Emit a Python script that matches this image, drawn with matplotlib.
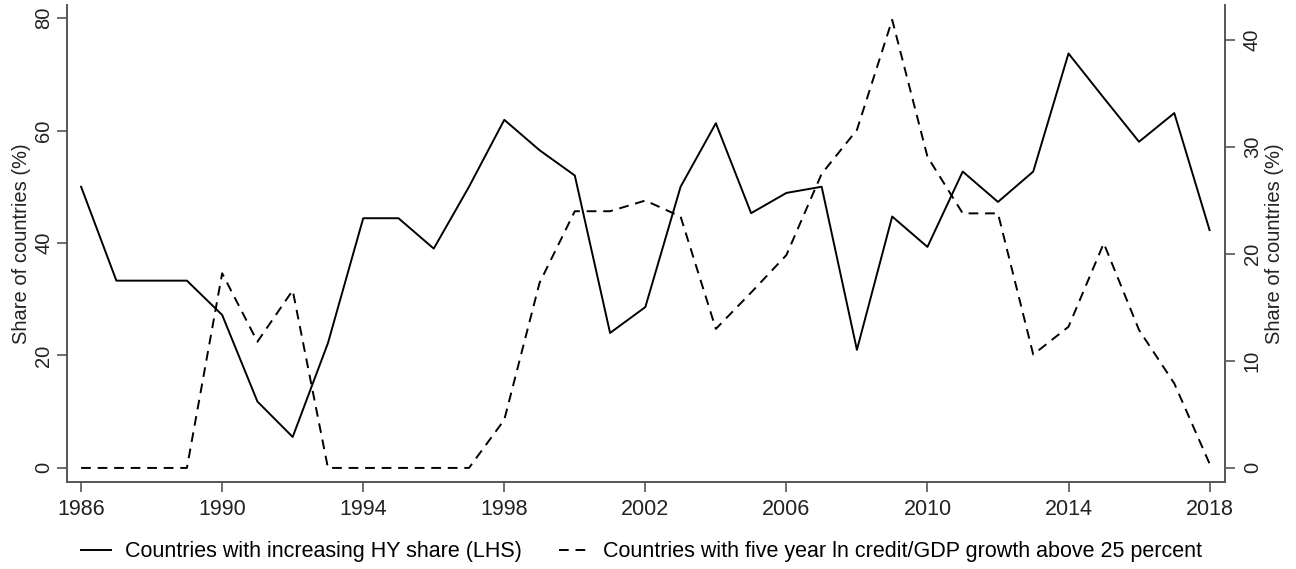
import matplotlib
matplotlib.use("Agg")
import matplotlib.pyplot as plt

plt.rcParams['font.family'] = ['Liberation Sans', 'DejaVu Sans']

years = list(range(1986, 2019))

# share of countries with increasing HY share (LHS, %)
hy_share = [50.0, 33.3, 33.3, 33.3, 27.2, 11.8, 5.5, 22.2, 44.4, 44.4,
            39.0, 50.0, 61.9, 56.5, 52.0, 24.0, 28.6, 50.0, 61.3, 45.3,
            48.9, 50.0, 21.0, 44.7, 39.3, 52.7, 47.3, 52.7, 73.7, 65.8,
            58.0, 63.1, 42.3]

# share of countries with 5y ln credit/GDP growth above 25 percent (RHS, %)
credit_boom = [0.0, 0.0, 0.0, 0.0, 18.2, 11.8, 16.6, 0.0, 0.0, 0.0,
               0.0, 0.0, 4.5, 17.3, 24.0, 24.0, 25.0, 23.5, 13.0, 16.4,
               19.9, 27.5, 31.6, 41.9, 29.1, 23.8, 23.8, 10.6, 13.2, 21.0,
               12.9, 7.9, 0.4]

xticks = list(range(1986, 2019, 4))
left_ticks = [0, 20, 40, 60, 80]
right_ticks = [0, 10, 20, 30, 40]

spine_col = '#555555'
text_col = '#222222'
fs = 15.5

fig = plt.figure(figsize=(12.96, 5.69), dpi=100)
ax = fig.add_axes([0.0517, 0.153, 0.8933, 0.838])
ax2 = ax.twinx()

l1, = ax.plot(years, hy_share, color='black', lw=1.4,
              label='Countries with increasing HY share (LHS)')
l2, = ax2.plot(years, credit_boom, color='black', lw=1.4, dashes=(5, 3.5),
               label='Countries with five year ln credit/GDP growth above 25 percent')

ax.set_xlim(1985.6, 2018.43)
ax.set_ylim(-2.5, 82.3)
ax2.set_ylim(-1.31, 43.27)

ax.set_xticks(xticks)
ax.set_yticks(left_ticks)
ax2.set_yticks(right_ticks)

for a in (ax, ax2):
    a.spines['top'].set_visible(False)
    for s in ('left', 'right', 'bottom'):
        a.spines[s].set_color(spine_col)
        a.spines[s].set_linewidth(1.2)
    a.tick_params(colors=spine_col, labelcolor=text_col, length=7,
                  width=1.2, labelsize=fs)

ax.tick_params(axis='x', pad=5)
ax.tick_params(axis='y', labelsize=14.5, pad=3)
ax2.tick_params(axis='y', labelsize=14.5, pad=6)
for t in ax.get_yticklabels() + ax2.get_yticklabels():
    t.set_rotation(90)
    t.set_va('center')

ax.set_ylabel('Share of countries (%)', fontsize=14.5, color=text_col, labelpad=2)
ax2.set_ylabel('Share of countries (%)', fontsize=14.5, color=text_col, labelpad=2)

fig.legend(handles=[l1, l2], loc='center', bbox_to_anchor=(0.495, 0.030),
           ncol=2, frameon=False, fontsize=fs, handlelength=1.4,
           columnspacing=1.7, handletextpad=0.65)

fig.savefig('out.png', dpi=100)
